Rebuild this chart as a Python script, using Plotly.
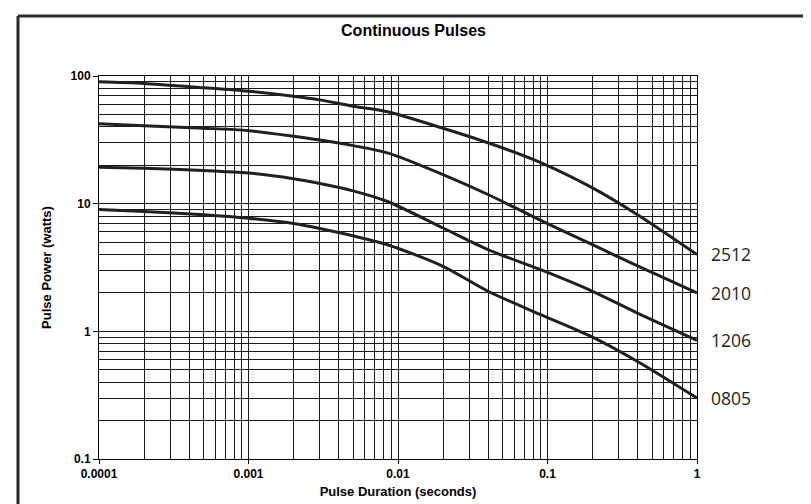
import numpy as np
import plotly.graph_objects as go

# pulse duration (seconds), shared by every curve
duration = [0.0001, 0.0002, 0.0005, 0.001, 0.002, 0.003, 0.005, 0.0085,
            0.02, 0.04, 0.09, 0.2, 0.4, 1]

# pulse power (watts) per resistor size
power_2512 = [90, 87.5, 81, 76, 69.5, 65, 58, 52.5, 39, 30, 21, 13.3, 8.2, 4]
power_2010 = [42.3, 40.8, 39, 37.3, 33.7, 31.5, 28.5, 25, 16.9, 11.8, 7.4, 4.77, 3.25, 2]
power_1206 = [19.3, 18.9, 18.2, 17.4, 15.7, 14.4, 12.6, 10.4, 6.45, 4.36, 3.04, 2.06, 1.39, 0.85]
power_0805 = [9.0, 8.7, 8.2, 7.7, 7.0, 6.4, 5.6, 4.77, 3.23, 2.06, 1.35, 0.9, 0.58, 0.3]

series = [("2512", power_2512), ("2010", power_2010),
          ("1206", power_1206), ("0805", power_0805)]

x_ticks = [0.0001, 0.001, 0.01, 0.1, 1]
x_ticktext = ["0.0001", "0.001", "0.01", "0.1", "1"]
y_ticks = [0.1, 1, 10, 100]
y_ticktext = ["0.1", "1", "10", "100"]

W, H = 811, 504
L, R, T, B = 91, 122, 68, 53

curve_col = "#231f20"
grid_col = "#1a1a1a"

fig = go.Figure()
for name, vals in series:
    fig.add_trace(go.Scatter(
        x=duration, y=vals, mode="lines", name=name,
        line=dict(color=curve_col, width=3, shape="spline", smoothing=0.8),
        showlegend=False,
    ))
    # size label to the right of the curve end
    fig.add_annotation(
        x=np.log10(duration[-1]), y=np.log10(vals[-1]),
        text=name, showarrow=False, xanchor="left", yanchor="middle",
        xshift=12, font=dict(family="Open Sans", size=17.5, color=curve_col),
    )

minor_x = [m * 10.0 ** e for e in range(-4, 0) for m in range(2, 10)]
minor_y = [m * 10.0 ** e for e in range(-1, 2) for m in range(2, 10)]

tick_font = dict(family="Liberation Sans, Arial", size=12, color="black", weight="bold")
title_font = dict(family="Liberation Sans, Arial", size=13, color="black", weight="bold")

fig.update_xaxes(
    type="log", range=[-4, 0],
    tickvals=x_ticks, ticktext=x_ticktext, tickfont=tick_font,
    ticks="outside", ticklen=4, tickcolor="black",
    showgrid=True, gridcolor=grid_col, gridwidth=1,
    minor=dict(tickvals=minor_x, showgrid=True, gridcolor=grid_col, gridwidth=1, ticks=""),
    showline=True, linecolor="black", linewidth=1, mirror=True,
    zeroline=False,
    title=dict(text="Pulse Duration (seconds)", font=title_font, standoff=6),
)
fig.update_yaxes(
    type="log", range=[-1, 2],
    tickvals=y_ticks, ticktext=y_ticktext, tickfont=tick_font,
    ticks="outside", ticklen=5, tickcolor="black",
    showgrid=True, gridcolor=grid_col, gridwidth=1,
    minor=dict(tickvals=minor_y, showgrid=True, gridcolor=grid_col, gridwidth=1, ticks=""),
    showline=True, linecolor="black", linewidth=1, mirror=True,
    zeroline=False,
    title=dict(text="Pulse Power (watts)", font=title_font, standoff=16),
)

# outer frame: left and top edges only are inside the picture
fx = (10 - L) / (W - L - R)
fy = (H - B - 8) / (H - T - B)
fig.add_shape(type="line", xref="paper", yref="paper", x0=fx, x1=fx, y0=-1, y1=fy,
              line=dict(color="#2b2b2b", width=3))
fig.add_shape(type="line", xref="paper", yref="paper", x0=fx, x1=3, y0=fy, y1=fy,
              line=dict(color="#2b2b2b", width=3))

fig.update_layout(
    width=W, height=H,
    margin=dict(l=L, r=R, t=T, b=B),
    paper_bgcolor="white", plot_bgcolor="white",
    title=dict(text="Continuous Pulses", x=0.5, xanchor="center", y=1 - 22 / H, yanchor="middle",
               font=dict(family="Liberation Sans, Arial", size=16, color="black", weight="bold")),
)

fig.write_html("out.html")
